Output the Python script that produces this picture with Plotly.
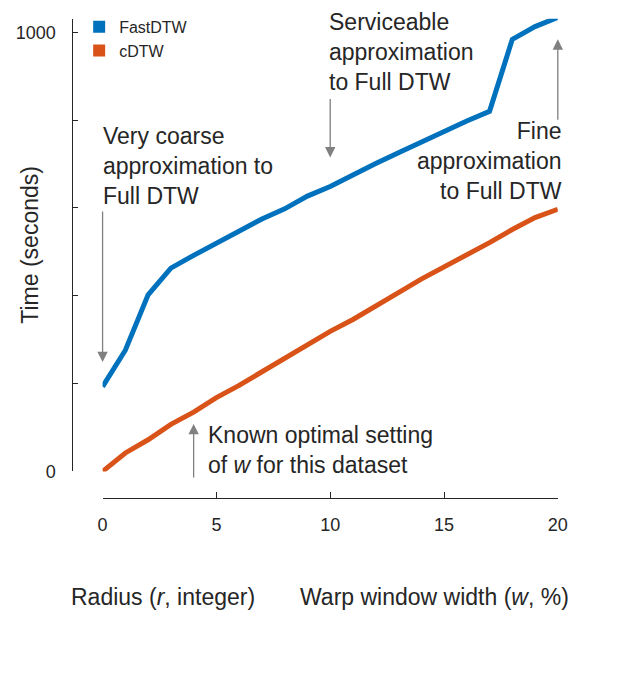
import plotly.graph_objects as go

# ---- data ----
radius = list(range(21))
fastdtw = [193, 276, 402, 463, 492, 519, 548, 575, 598, 627, 649, 676, 701,
           726, 751, 775, 798, 820, 984, 1013, 1034]
cdtw = [0, 42, 72, 107, 135, 168, 196, 227, 256, 290, 319, 346, 378, 407,
        438, 465, 494, 521, 551, 578, 597]
series_names = ["FastDTW", "cDTW"]
series_colors = ["#0072BD", "#D95319"]
y_tickvals = [0, 200, 400, 600, 800, 1000]
y_ticktext = ["0", "", "", "", "", "1000"]
x_tickvals = [0, 5, 10, 15, 20]

W, H = 621, 673
TXT = "#262626"
FONT = "Liberation Sans, Arial, sans-serif"


def px(x):
    return x / W


def py(y):
    return 1 - y / H


fig = go.Figure()
for name, vals, col in zip(series_names, [fastdtw, cdtw], series_colors):
    fig.add_trace(go.Scatter(x=radius, y=vals, mode="lines", name=name,
                             line=dict(color=col, width=5), showlegend=False,
                             cliponaxis=False))
    fig.add_trace(go.Scatter(x=[None], y=[None], mode="markers", name=name,
                             marker=dict(symbol="square", size=12, color=col),
                             showlegend=True))

fig.update_layout(
    width=W, height=H,
    margin=dict(l=0, r=0, t=0, b=0),
    paper_bgcolor="white", plot_bgcolor="white",
    font=dict(family=FONT, color=TXT),
    xaxis=dict(domain=[px(100), px(566.5)], range=[0, 20], anchor="free",
               position=py(506), showline=True, linecolor=TXT, linewidth=1,
               ticks="inside", ticklen=6, tickcolor=TXT, tickvals=x_tickvals,
               tickfont=dict(size=18, color=TXT), ticklabelstandoff=10,
               showgrid=False, zeroline=False),
    yaxis=dict(domain=[py(478.5), py(19)], range=[0, 1031], anchor="free",
               position=px(69), showline=True, linecolor=TXT, linewidth=1,
               ticks="inside", ticklen=5, tickcolor=TXT, tickvals=y_tickvals,
               ticktext=y_ticktext, tickfont=dict(size=18, color=TXT),
               ticklabelstandoff=13, showgrid=False, zeroline=False),
    legend=dict(x=px(76), y=py(10), xanchor="left", yanchor="top",
                font=dict(size=16, color=TXT), bgcolor="rgba(0,0,0,0)",
                itemwidth=30, tracegroupgap=0),
)

ann_font = dict(size=23, color=TXT, family=FONT)
texts = [
    ("Very coarse<br>approximation to<br>Full DTW", px(98), py(169), "left"),
    ("Serviceable<br>approximation<br>to Full DTW", px(330), py(53), "left"),
    ("Fine<br>approximation<br>to Full DTW", px(573), py(163), "right"),
    ("Known optimal setting<br>of <i>w</i> for this dataset", px(206), py(457), "left"),
]
for t, x, y, al in texts:
    fig.add_annotation(text=t, x=x, y=y, xref="paper", yref="paper",
                       xanchor=al, yanchor="middle", align=al,
                       showarrow=False, font=ann_font)

# arrows: (head x data, head y data, tail offset px)
arrows = [(0, 249, -152), (10, 715, -60), (20, 984, 82), (4, 108, 55)]
for hx, hy, off in arrows:
    fig.add_annotation(x=hx, y=hy, xref="x", yref="y", ax=0, ay=off,
                       text="", showarrow=True, arrowhead=2, arrowsize=1.6,
                       arrowwidth=1.3, arrowcolor="#808080", standoff=0)

title_font = dict(size=23, color=TXT, family=FONT)
fig.add_annotation(text="Time (seconds)", x=px(26), y=py(248), xref="paper",
                   yref="paper", textangle=-90, showarrow=False,
                   xanchor="center", yanchor="middle", font=title_font)
fig.add_annotation(text="Radius (<i>r</i>, integer)", x=px(161.5), y=py(606),
                   xref="paper", yref="paper", showarrow=False,
                   xanchor="center", yanchor="middle", font=title_font)
fig.add_annotation(text="Warp window width (<i>w</i>, %)", x=px(440), y=py(606),
                   xref="paper", yref="paper", showarrow=False,
                   xanchor="center", yanchor="middle", font=title_font)

fig.write_html("out.html",
               post_script="document.body.style.margin='0';"
                           "document.body.style.overflow='hidden';")
